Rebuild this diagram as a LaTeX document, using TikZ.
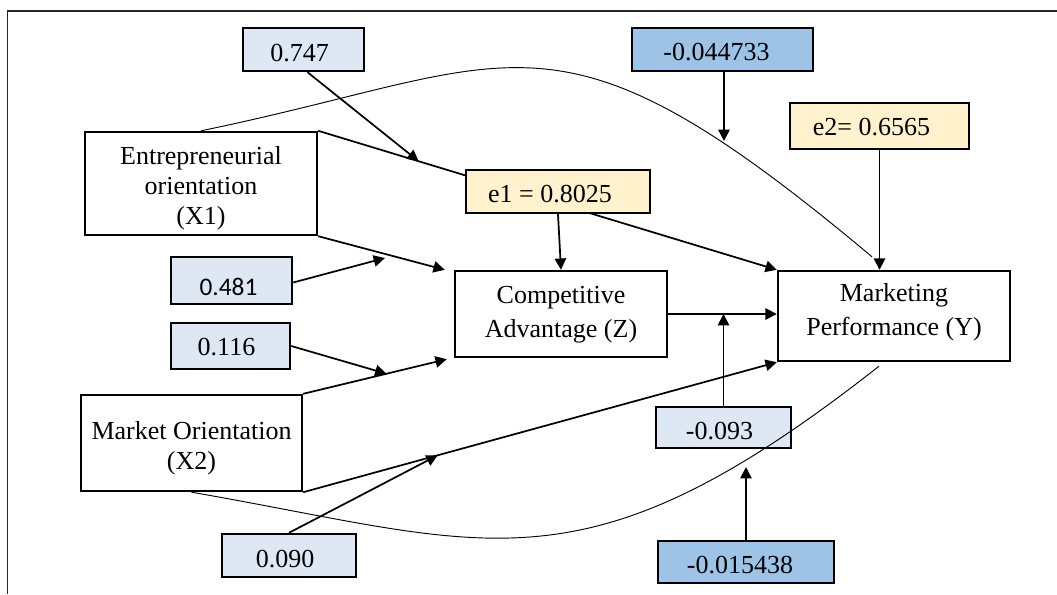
\documentclass[tikz,border=0pt]{standalone}
\usepackage{fontspec}
\setmainfont{Liberation Serif}
\newfontfamily\calibrifont{Carlito}
\usetikzlibrary{arrows.meta,calc,backgrounds}
\definecolor{lblue}{HTML}{DEE8F4}
\definecolor{mblue}{HTML}{9DC3E6}
\definecolor{lyel}{HTML}{FFF2CC}
\newlength\pxu
\setlength\pxu{0.75pt}
\begin{document}
\begin{tikzpicture}[x=0.75pt,y=-0.75pt,
  box/.style={draw=black, line width=1.8pt, inner sep=0pt, rectangle},
  arr/.style={line width=1.3pt, -{Triangle[length=8.5pt,width=8.5pt]}},
  thincurve/.style={line width=0.7pt},
  txt/.style={inner sep=0pt, font=\fontsize{19.5}{22.5}\selectfont},
  txtb/.style={inner sep=0pt, align=center, font=\fontsize{19.5}{25.5}\selectfont},
  ctxt/.style={inner sep=0pt, font=\calibrifont\fontsize{19}{22}\selectfont}]
\useasboundingbox (0,0) rectangle (1057,594);
\draw[line width=1.4pt, black!85] (7.5,594) -- (7.5,11) -- (1057,11);

% boxes
\node[box, fill=lblue, minimum width=121\pxu, minimum height=43\pxu] (b747) at (303.5,49.5) {};
\node[box, minimum width=232\pxu, minimum height=103\pxu] (X1) at (201,183.5) {};
\node[box, fill=lblue, minimum width=121\pxu, minimum height=47\pxu] (b481) at (231.5,280.5) {};
\node[box, fill=lblue, minimum width=119\pxu, minimum height=46\pxu] (b116) at (230.5,346) {};
\node[box, minimum width=221\pxu, minimum height=96\pxu] (X2) at (191.5,443) {};
\node[box, fill=lblue, minimum width=134\pxu, minimum height=43\pxu] (b090) at (289,555.5) {};
\node[box, fill=lyel, minimum width=184\pxu, minimum height=43\pxu] (e1) at (558,191.5) {};
\node[box, minimum width=212\pxu, minimum height=86\pxu] (Z) at (561,314) {};
\node[box, fill=mblue, minimum width=181\pxu, minimum height=43\pxu] (b044) at (722.5,49.5) {};
\node[box, fill=lyel, minimum width=179\pxu, minimum height=46\pxu] (e2) at (879.5,126) {};
\node[box, minimum width=232\pxu, minimum height=90\pxu] (Y) at (894,316) {};
\node[box, fill=lblue, minimum width=135\pxu, minimum height=41\pxu] (b093) at (723.5,427.5) {};
\node[box, fill=mblue, minimum width=176\pxu, minimum height=42\pxu] (b015) at (746,562) {};

% texts
\node[txt] (t747) at (299.5,53.5) {0.747};
\node[txt, align=center] (tX1) at (201,188) {Entrepreneurial\\orientation\\(X1)};
\node[ctxt] (t481) at (228.5,286.5) {0.481};
\node[txt] (t116) at (226.5,347.5) {0.116};
\node[txt, align=center] (tX2) at (191.5,448) {Market Orientation\\(X2)};
\node[txt] (t090) at (285,559) {0.090};
\node[txt] (te1) at (550,194) {e1 = 0.8025};
\node[txtb] (tZ) at (561,315) {Competitive\\Advantage (Z)};
\node[txt] (t044) at (716.5,52) {-0.044733};
\node[txt] (te2) at (871.5,127.5) {e2= 0.6565};
\node[txtb] (tY) at (894,312) {Marketing\\Performance (Y)};
\node[txt] (t093) at (719.5,431.5) {-0.093};
\node[txt] (t015) at (740,565) {-0.015438};

% helper points
\coordinate (p1) at ($(X1.north east)!0.219!(Y.north west)$);
\coordinate (zt) at ($(Z.north west)+(-9,0)$);
\coordinate (p2) at (385,258);
\coordinate (zb) at ($(Z.south west)+(-7,1)$);
\coordinate (p3) at ($(X2.north east)!0.58!(zb)$);
\coordinate (p4) at ($(X2.south east)!0.284!(Y.south west)$);
\coordinate (yt) at ($(Y.north)+(-22,-13)$);
\coordinate (yb) at ($(Y.south)+(-15,4)$);
\coordinate (q1) at (724,141);
\coordinate (q2) at (746,467);

\begin{pgfonlayer}{background}
\draw[arr] (X1.north east) -- (Y.north west);
\draw[arr] ($(b747.south)+(4,0)$) -- (p1);
\draw[arr] (e1.south) -- (Z.north);
\draw[arr] (X1.south east) -- (zt);
\draw[arr] ($(b481.east)+(0,2)$) -- (p2);
\draw[arr] (b116.east) -- (p3);
\draw[arr] (X2.north east) -- (zb);
\draw[arr] (X2.south east) -- (Y.south west);
\draw[arr] (b090.north) -- (p4);
\draw[arr] (Z.east) -- (Z.east -| Y.west);
\draw[arr] (b093.north) -- (b093.north |- Z.east);
\draw[arr] (e2.south) -- (e2.south |- Y.north);
\draw[arr] (b044.south -| q1) -- (q1);
\draw[arr] (b015.north) -- (q2);
\end{pgfonlayer}

\draw[thincurve] (X1.north) .. controls (522,64.6) and (552,-11.6) .. (yt);
\draw[thincurve] (yb) .. controls (580.7,600.6) and (490.5,544) .. (X2.south);
\end{tikzpicture}
\end{document}
